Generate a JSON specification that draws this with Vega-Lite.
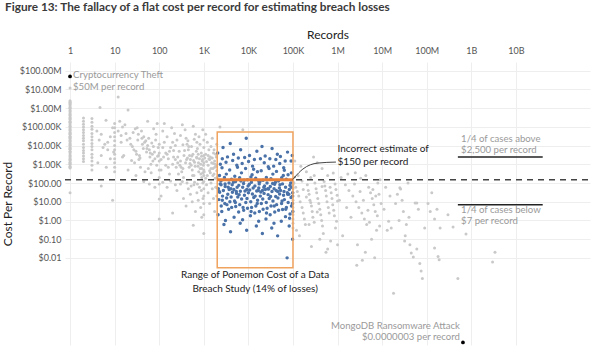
{
  "$schema": "https://vega.github.io/schema/vega-lite/v6.json",
  "width": 525,
  "height": 283,
  "autosize": "none",
  "padding": {"left": 65, "top": 62, "right": 10, "bottom": 7},
  "config": {
    "font": "Lato",
    "view": {"stroke": null},
    "axis": {"grid": true, "gridColor": "#eeeeee", "domain": false, "ticks": false, "labelColor": "#555555", "labelFontSize": 9, "titleColor": "#222222", "titleFontWeight": "normal", "titleFontSize": 12}
  },
  "title": {
    "text": "Figure 13: The fallacy of a flat cost per record for estimating breach losses",
    "anchor": "start",
    "frame": "group",
    "fontSize": 11.8,
    "fontWeight": "bold",
    "color": "#3a3a3a",
    "offset": 14,
    "dx": -60
  },
  "datasets": {
    "gray": [
      {"r":1,"c":12000000},{"r":1,"c":2500000},{"r":1,"c":2200000},{"r":1,"c":2000000},{"r":1,"c":1800000},{"r":1,"c":1600000},{"r":1,"c":1300000},{"r":1,"c":1100000},{"r":1,"c":1000000},{"r":1,"c":800000},{"r":1,"c":700000},{"r":1,"c":630000},{"r":1,"c":500000},{"r":1,"c":450000},{"r":1,"c":400000},{"r":1,"c":320000},{"r":1,"c":280000},{"r":1,"c":250000},{"r":1,"c":200000},{"r":1,"c":180000},{"r":1,"c":160000},{"r":1,"c":130000},{"r":1,"c":110000},{"r":1,"c":100000},{"r":1,"c":80000},{"r":1,"c":70000},{"r":1,"c":63000},{"r":1,"c":50000},{"r":1,"c":45000},{"r":1,"c":40000},{"r":1,"c":32000},{"r":1,"c":28000},{"r":1,"c":25000},{"r":1,"c":20000},{"r":1,"c":18000},{"r":1,"c":16000},{"r":1,"c":13000},{"r":1,"c":11000},{"r":1,"c":10000},{"r":1,"c":8000},{"r":1,"c":7000},{"r":1,"c":6300},{"r":1,"c":5000},{"r":1,"c":4500},{"r":1,"c":4000},{"r":1,"c":3200},{"r":1,"c":2800},{"r":1,"c":2500},{"r":1,"c":2000},{"r":1,"c":1800},{"r":1,"c":1600},{"r":1,"c":1300},{"r":1,"c":1100},{"r":1,"c":1000},{"r":1,"c":800},{"r":1,"c":700},{"r":1,"c":630},{"r":1,"c":30},
      {"r":2,"c":300000},{"r":2,"c":200000},{"r":2,"c":140000},{"r":2,"c":100000},{"r":2,"c":70000},{"r":2,"c":50000},{"r":2,"c":35000},{"r":2,"c":25000},{"r":2,"c":18000},{"r":2,"c":12000},{"r":2,"c":8000},{"r":2,"c":5500},{"r":2,"c":4000},{"r":2,"c":2800},{"r":2,"c":2000},{"r":2,"c":1400},
      {"r":3.1,"c":280000},{"r":3.1,"c":180000},{"r":3.1,"c":110000},{"r":3.1,"c":75000},{"r":3.1,"c":45000},{"r":3.1,"c":30000},{"r":3.1,"c":20000},{"r":3.1,"c":13000},{"r":3.1,"c":9000},{"r":3.1,"c":6000},{"r":3.1,"c":3500},{"r":3.1,"c":2300},{"r":3.1,"c":1500},{"r":3.1,"c":900},{"r":3.1,"c":500},
      {"r":4.7,"c":1100000},{"r":6.4,"c":230000},{"r":4,"c":60000},{"r":5,"c":40000},{"r":4.5,"c":20000},{"r":6,"c":12000},{"r":7,"c":6000},{"r":5,"c":3000},{"r":8,"c":2000},{"r":4.2,"c":1200},{"r":6.5,"c":700},{"r":9,"c":90000},{"r":8,"c":30000},{"r":9.5,"c":4500},{"r":5,"c":70},{"r":9,"c":12},{"r":7,"c":15000},{"r":5.5,"c":8000},
      {"r":10,"c":150000},{"r":10,"c":90000},{"r":10,"c":50000},{"r":10,"c":30000},{"r":10,"c":18000},{"r":10,"c":10000},{"r":10,"c":6000},{"r":10,"c":3500},{"r":10,"c":2000},{"r":10,"c":1200},{"r":10,"c":700},{"r":10,"c":400},
      {"r":12,"c":4000000},{"r":20,"c":800000},{"r":13,"c":200000},{"r":15,"c":100000},{"r":18,"c":45000},{"r":22,"c":25000},{"r":14,"c":15000},{"r":25,"c":9000},{"r":30,"c":5000},{"r":16,"c":3000},{"r":35,"c":1800},{"r":28,"c":1200},{"r":40,"c":60000},{"r":45,"c":30000},{"r":50,"c":18000},{"r":55,"c":10000},{"r":60,"c":6000},{"r":70,"c":3500},{"r":80,"c":2000},{"r":65,"c":1000},{"r":38,"c":700},{"r":48,"c":400},{"r":90,"c":150000},{"r":75,"c":80000},{"r":85,"c":40000},{"r":33,"c":20000},{"r":26,"c":50000},{"r":42,"c":12000},{"r":58,"c":25000},{"r":68,"c":14000},{"r":95,"c":8000},{"r":52,"c":4500},{"r":62,"c":2500},{"r":72,"c":1500},{"r":88,"c":900},{"r":20,"c":500},{"r":30,"c":250},{"r":45,"c":120},{"r":60,"c":90},{"r":80,"c":60},{"r":15,"c":2500},{"r":24,"c":1600},{"r":36,"c":3000},{"r":44,"c":7000},{"r":57,"c":600},{"r":66,"c":350},{"r":78,"c":4500},{"r":92,"c":2700},{"r":100,"c":14},{"r":100,"c":1.2},{"r":100,"c":90},{"r":100,"c":200},{"r":100,"c":500},{"r":100,"c":1500},{"r":100,"c":4000},{"r":100,"c":12000},{"r":17,"c":130000},{"r":55,"c":200000},{"r":32,"c":90000},
      {"r":12,"c":60000},{"r":14,"c":35000},{"r":19,"c":20000},{"r":23,"c":12000},{"r":27,"c":6000},{"r":31,"c":3500},{"r":37,"c":2200},{"r":41,"c":25000},{"r":47,"c":15000},{"r":53,"c":7000},{"r":63,"c":4000},{"r":74,"c":9000},{"r":83,"c":20000},{"r":96,"c":3000},{"r":29,"c":80000},{"r":34,"c":40000},
      {"r":120,"c":60000},{"r":150,"c":30000},{"r":130,"c":15000},{"r":180,"c":8000},{"r":140,"c":4000},{"r":160,"c":2000},{"r":200,"c":1000},{"r":110,"c":500},{"r":170,"c":300},{"r":220,"c":45000},{"r":250,"c":20000},{"r":230,"c":10000},{"r":280,"c":5000},{"r":260,"c":2500},{"r":300,"c":1500},{"r":240,"c":700},{"r":320,"c":400},{"r":350,"c":200},{"r":380,"c":70000},{"r":400,"c":25000},{"r":420,"c":12000},{"r":450,"c":6000},{"r":480,"c":3000},{"r":500,"c":1800},{"r":520,"c":900},{"r":550,"c":500},{"r":600,"c":250},{"r":650,"c":40000},{"r":700,"c":15000},{"r":720,"c":7000},{"r":750,"c":3500},{"r":800,"c":2000},{"r":850,"c":1000},{"r":900,"c":600},{"r":950,"c":350},{"r":950,"c":70000},{"r":1000,"c":20000},{"r":1000,"c":8000},{"r":1000,"c":3000},{"r":1000,"c":1200},{"r":1000,"c":500},{"r":1000,"c":250},{"r":130,"c":150000},{"r":190,"c":90000},{"r":330,"c":130000},{"r":580,"c":110000},{"r":125,"c":2500},{"r":210,"c":5500},{"r":290,"c":900},{"r":340,"c":11000},{"r":390,"c":1200},{"r":440,"c":18000},{"r":470,"c":700},{"r":530,"c":9000},{"r":570,"c":3500},{"r":620,"c":1300},{"r":680,"c":5000},{"r":740,"c":800},{"r":820,"c":12000},{"r":880,"c":4000},{"r":920,"c":1500},{"r":160,"c":700},{"r":270,"c":300},{"r":360,"c":3000},{"r":430,"c":2200},{"r":610,"c":22000},{"r":780,"c":30000},{"r":860,"c":300},
      {"r":110,"c":1800},{"r":140,"c":900},{"r":170,"c":5000},{"r":210,"c":2500},{"r":260,"c":1200},{"r":310,"c":700},{"r":370,"c":5500},{"r":410,"c":1800},{"r":460,"c":9000},{"r":490,"c":1100},{"r":540,"c":2800},{"r":590,"c":1600},{"r":640,"c":800},{"r":690,"c":2400},{"r":760,"c":1200},{"r":830,"c":600},{"r":890,"c":2700},{"r":940,"c":1800},{"r":980,"c":900},{"r":1050,"c":2200},{"r":1150,"c":1400},{"r":1250,"c":3000},{"r":1350,"c":1800},{"r":1450,"c":600},{"r":1550,"c":2200},{"r":1650,"c":1100},{"r":1750,"c":700},{"r":1850,"c":3500},{"r":1950,"c":450},{"r":1990,"c":200},{"r":1020,"c":400},{"r":770,"c":400},{"r":560,"c":250},{"r":340,"c":600},{"r":230,"c":1800},{"r":150,"c":3500},{"r":120,"c":8000},{"r":200,"c":15000},{"r":300,"c":35000},{"r":700,"c":2200},{"r":1600,"c":250},{"r":1800,"c":1000},{"r":1400,"c":350},{"r":1100,"c":180},{"r":900,"c":200},
      {"r":110,"c":20},{"r":150,"c":60},{"r":200,"c":2.5},{"r":250,"c":40},{"r":300,"c":90},{"r":350,"c":15},{"r":400,"c":6},{"r":450,"c":50},{"r":500,"c":25},{"r":550,"c":10},{"r":580,"c":0.55},{"r":600,"c":80},{"r":650,"c":3},{"r":700,"c":30},{"r":750,"c":12},{"r":800,"c":60},{"r":850,"c":5},{"r":900,"c":1.5},{"r":950,"c":100},{"r":1000,"c":0.2},{"r":1000,"c":2},{"r":1000,"c":8},{"r":1000,"c":20},{"r":1000,"c":50},{"r":1000,"c":120},{"r":120,"c":110},{"r":180,"c":130},{"r":230,"c":80},{"r":330,"c":120},{"r":420,"c":100},{"r":520,"c":70},{"r":620,"c":110},{"r":720,"c":90},{"r":880,"c":40},{"r":960,"c":15},
      {"r":1100,"c":40000},{"r":1200,"c":15000},{"r":1300,"c":6000},{"r":1400,"c":2500},{"r":1500,"c":1200},{"r":1600,"c":600},{"r":1700,"c":300},{"r":1800,"c":180},{"r":1100,"c":3500},{"r":1250,"c":900},{"r":1350,"c":450},{"r":1450,"c":9000},{"r":1550,"c":25000},{"r":1650,"c":4000},{"r":1750,"c":1500},{"r":1900,"c":800},{"r":1950,"c":12000},{"r":1150,"c":80},{"r":1250,"c":30},{"r":1350,"c":8},{"r":1450,"c":100},{"r":1550,"c":50},{"r":1650,"c":15},{"r":1750,"c":3},{"r":1850,"c":60},{"r":1950,"c":20},{"r":1300,"c":2000},{"r":1700,"c":6000},{"r":1900,"c":2500},{"r":1200,"c":250},
      {"r":2300,"c":100000},{"r":7500,"c":70000},
      {"r":100000,"c":120},{"r":100000,"c":80},{"r":100000,"c":50},{"r":100000,"c":30},{"r":100000,"c":20},{"r":100000,"c":12},{"r":100000,"c":8},{"r":100000,"c":5},{"r":100000,"c":3},{"r":100000,"c":2},{"r":100000,"c":1.2},{"r":100000,"c":0.7},{"r":100000,"c":0.4},
      {"r":110000,"c":1500},{"r":150000,"c":800},{"r":200000,"c":400},{"r":290000,"c":2500},{"r":350000,"c":1200},{"r":450000,"c":600},{"r":800000,"c":340},{"r":600000,"c":250},{"r":130000,"c":250},{"r":250000,"c":200},
      {"r":105000,"c":100},{"r":115000,"c":60},{"r":125000,"c":35},{"r":135000,"c":20},{"r":145000,"c":10},{"r":160000,"c":5},{"r":170000,"c":2.5},{"r":180000,"c":1.2},{"r":190000,"c":0.6},{"r":120000,"c":0.3},{"r":140000,"c":0.15},{"r":210000,"c":80},{"r":220000,"c":40},{"r":230000,"c":25},{"r":240000,"c":12},{"r":260000,"c":6},{"r":270000,"c":3},{"r":280000,"c":1.5},{"r":300000,"c":0.8},{"r":310000,"c":100},{"r":330000,"c":50},{"r":340000,"c":30},{"r":360000,"c":15},{"r":380000,"c":8},{"r":400000,"c":4},{"r":420000,"c":2},{"r":440000,"c":1},{"r":460000,"c":0.5},{"r":480000,"c":0.2},{"r":500000,"c":120},{"r":520000,"c":70},{"r":540000,"c":40},{"r":560000,"c":20},{"r":580000,"c":10},{"r":620000,"c":5},{"r":650000,"c":2.5},{"r":680000,"c":60},{"r":720000,"c":30},{"r":750000,"c":15},{"r":780000,"c":7},{"r":820000,"c":3.5},{"r":850000,"c":1.8},{"r":880000,"c":90},{"r":920000,"c":45},{"r":950000,"c":0.9},{"r":980000,"c":22},{"r":1000000,"c":11},{"r":1000000,"c":0.05},{"r":160000,"c":130},{"r":200000,"c":18},{"r":260000,"c":0.04},{"r":300000,"c":250},{"r":400000,"c":0.1},{"r":600000,"c":0.03},{"r":700000,"c":0.08},{"r":900000,"c":0.4},{"r":450000,"c":65},{"r":350000,"c":2.8},{"r":250000,"c":9},{"r":230000,"c":0.6},{"r":170000,"c":45},{"r":550000,"c":0.02},
      {"r":1200000,"c":200},{"r":1500000,"c":80},{"r":1800000,"c":40},{"r":2200000,"c":20},{"r":2600000,"c":10},{"r":3000000,"c":5},{"r":3500000,"c":2.5},{"r":4000000,"c":1.2},{"r":4500000,"c":0.6},{"r":5000000,"c":60},{"r":5500000,"c":30},{"r":6000000,"c":15},{"r":6500000,"c":7},{"r":7000000,"c":3},{"r":7500000,"c":0.3},{"r":8000000,"c":100},{"r":8500000,"c":25},{"r":9000000,"c":150},{"r":9500000,"c":8},{"r":1300000,"c":0.15},{"r":1600000,"c":5},{"r":2000000,"c":1.5},{"r":2400000,"c":90},{"r":2800000,"c":0.05},{"r":3200000,"c":35},{"r":3800000,"c":12},{"r":4200000,"c":0.02},{"r":4800000,"c":3.5},{"r":5200000,"c":0.8},{"r":5800000,"c":0.1},{"r":6200000,"c":45},{"r":6800000,"c":0.01},{"r":7200000,"c":20},{"r":7800000,"c":1.8},{"r":8800000,"c":0.5},{"r":1100000,"c":12},{"r":1700000,"c":300},{"r":2500000,"c":350},{"r":3300000,"c":180},{"r":4300000,"c":250},{"r":2700000,"c":0.004},{"r":3600000,"c":0.0075},
      {"r":12000000,"c":60},{"r":15000000,"c":20},{"r":18000000,"c":0.00013},{"r":20000000,"c":8},{"r":25000000,"c":56},{"r":26000000,"c":48},{"r":30000000,"c":3},{"r":33000000,"c":0.15},{"r":35000000,"c":0.6},{"r":40000000,"c":1.5},{"r":45000000,"c":0.018},{"r":50000000,"c":0.011},{"r":55000000,"c":8.5},{"r":60000000,"c":8.5},{"r":65000000,"c":4},{"r":70000000,"c":0.005},{"r":75000000,"c":0.002},{"r":80000000,"c":0.0008},{"r":90000000,"c":0.4},{"r":14000000,"c":0.9},{"r":16000000,"c":0.39},{"r":22000000,"c":25},{"r":28000000,"c":12},{"r":38000000,"c":100},{"r":42000000,"c":0.05},{"r":11000000,"c":4},{"r":13000000,"c":0.3},{"r":24000000,"c":1},{"r":32000000,"c":0.08},{"r":60000000,"c":0.03},
      {"r":107000000,"c":8},{"r":120000000,"c":3},{"r":150000000,"c":0.034},{"r":170000000,"c":4},{"r":180000000,"c":0.012},{"r":190000000,"c":0.008},{"r":200000000,"c":0.39},{"r":390000000,"c":0.45},{"r":760000000,"c":0.19},{"r":3000000000,"c":0.006},{"r":3400000000,"c":0.02},{"r":500000000,"c":0.0008},{"r":130000000,"c":30},{"r":150000000,"c":1.2},{"r":300000000,"c":2}
    ],
    "blue": [
      {"r":2050,"c":4000},{"r":2250,"c":250},{"r":2120,"c":50},{"r":2180,"c":13},{"r":2090,"c":2},
      {"r":2350,"c":1000},{"r":2420,"c":130},{"r":2270,"c":32},{"r":2460,"c":6},{"r":2330,"c":90},
      {"r":2560,"c":650},{"r":2440,"c":80},{"r":2630,"c":20},{"r":2530,"c":3},{"r":2600,"c":2000},
      {"r":2700,"c":8000},{"r":2900,"c":200},{"r":2750,"c":40},{"r":2960,"c":8},{"r":2830,"c":0.6},
      {"r":3200,"c":300},{"r":3020,"c":65},{"r":3250,"c":16},{"r":3060,"c":1},{"r":3150,"c":1300},
      {"r":3400,"c":2500},{"r":3680,"c":100},{"r":3450,"c":25},{"r":3600,"c":4},{"r":3530,"c":60},
      {"r":3800,"c":500},{"r":4050,"c":50},{"r":3850,"c":10},{"r":3980,"c":0.25},{"r":3920,"c":13000},
      {"r":4450,"c":1600},{"r":4180,"c":160},{"r":4380,"c":32},{"r":4220,"c":5},{"r":4330,"c":80},
      {"r":4650,"c":3500},{"r":4950,"c":230},{"r":4720,"c":45},{"r":4900,"c":11},{"r":4780,"c":1.5},
      {"r":5500,"c":900},{"r":5150,"c":120},{"r":5420,"c":28},{"r":5200,"c":5.5},{"r":5350,"c":35},
      {"r":5700,"c":700},{"r":6100,"c":75},{"r":5780,"c":18},{"r":6050,"c":2.8},{"r":5950,"c":2200},
      {"r":6700,"c":6000},{"r":6350,"c":190},{"r":6600,"c":36},{"r":6400,"c":7},{"r":6550,"c":0.7},
      {"r":7000,"c":350},{"r":7450,"c":60},{"r":7050,"c":14},{"r":7400,"c":1.1},{"r":7250,"c":1100},
      {"r":8250,"c":2300},{"r":7800,"c":95},{"r":8150,"c":22},{"r":7850,"c":3.5},{"r":8050,"c":140},
      {"r":8650,"c":600},{"r":9200,"c":45},{"r":8750,"c":9},{"r":9150,"c":0.3},{"r":8950,"c":25000},
      {"r":10100,"c":1400},{"r":9500,"c":150},{"r":10000,"c":30},{"r":9550,"c":4.5},{"r":9850,"c":70},
      {"r":10600,"c":3000},{"r":11400,"c":210},{"r":10700,"c":42},{"r":11300,"c":10},{"r":11100,"c":1.8},
      {"r":12400,"c":800},{"r":11700,"c":110},{"r":12300,"c":26},{"r":11800,"c":5},{"r":12100,"c":280},
      {"r":13100,"c":550},{"r":14000,"c":70},{"r":13200,"c":17},{"r":13900,"c":2.5},{"r":13650,"c":1800},
      {"r":15500,"c":5000},{"r":14600,"c":180},{"r":15400,"c":38},{"r":14700,"c":6},{"r":15100,"c":0.5},
      {"r":16000,"c":400},{"r":17100,"c":55},{"r":16100,"c":12},{"r":17000,"c":0.9},{"r":16700,"c":40},
      {"r":18600,"c":2000},{"r":17500,"c":90},{"r":18500,"c":20},{"r":17600,"c":3},{"r":18200,"c":120},
      {"r":19400,"c":450},{"r":20700,"c":40},{"r":19500,"c":8},{"r":20600,"c":0.2},{"r":20200,"c":9000},
      {"r":22700,"c":1200},{"r":21300,"c":140},{"r":22500,"c":28},{"r":21400,"c":4},{"r":22200,"c":60},
      {"r":23800,"c":2800},{"r":25300,"c":200},{"r":24000,"c":45},{"r":25200,"c":9},{"r":24800,"c":1.2},
      {"r":27900,"c":750},{"r":26200,"c":100},{"r":27700,"c":24},{"r":26300,"c":4.5},{"r":27300,"c":50},
      {"r":29100,"c":600},{"r":31000,"c":65},{"r":29300,"c":15},{"r":30800,"c":2},{"r":30300,"c":2000},
      {"r":34000,"c":7000},{"r":32000,"c":170},{"r":33800,"c":35},{"r":32200,"c":6},{"r":33400,"c":0.4},
      {"r":35400,"c":300},{"r":37700,"c":50},{"r":35600,"c":11},{"r":37500,"c":0.7},{"r":36900,"c":800},
      {"r":41300,"c":1800},{"r":38800,"c":85},{"r":41000,"c":19},{"r":39000,"c":2.8},{"r":40500,"c":110},
      {"r":42700,"c":420},{"r":45500,"c":35},{"r":43000,"c":7},{"r":45300,"c":0.15},{"r":44600,"c":3500},
      {"r":50500,"c":1100},{"r":47500,"c":130},{"r":50200,"c":26},{"r":47700,"c":3.5},{"r":49600,"c":55},
      {"r":52300,"c":2600},{"r":55800,"c":190},{"r":52600,"c":40},{"r":55500,"c":8},{"r":54700,"c":0.9},
      {"r":62000,"c":650},{"r":58200,"c":90},{"r":61500,"c":22},{"r":58500,"c":3.8},{"r":60700,"c":250},
      {"r":64000,"c":480},{"r":68200,"c":60},{"r":64300,"c":13},{"r":67900,"c":1.6},{"r":66900,"c":1500},
      {"r":75500,"c":4500},{"r":70800,"c":160},{"r":75000,"c":30},{"r":71200,"c":5},{"r":73900,"c":0.01},
      {"r":77600,"c":280},{"r":82700,"c":45},{"r":78000,"c":9},{"r":82300,"c":0.5},{"r":81000,"c":25},
      {"r":90900,"c":1500},{"r":85400,"c":75},{"r":90400,"c":17},{"r":85800,"c":2.2},{"r":89100,"c":100},
      {"r":92200,"c":350},{"r":98300,"c":30},{"r":92600,"c":6},{"r":98000,"c":0.1},{"r":96200,"c":3000},
      {"r":2200,"c":35},{"r":2600,"c":12},{"r":3000,"c":90},{"r":3300,"c":7},{"r":3700,"c":45},{"r":4100,"c":18},{"r":4600,"c":110},{"r":5100,"c":9},{"r":5600,"c":60},{"r":6200,"c":24},{"r":6800,"c":130},{"r":7600,"c":5},{"r":8400,"c":38},{"r":9300,"c":15},{"r":10500,"c":85},{"r":11500,"c":3},{"r":12800,"c":55},{"r":14200,"c":20},{"r":15800,"c":8},{"r":17200,"c":120},{"r":19000,"c":33},{"r":21000,"c":14},{"r":23000,"c":70},{"r":25500,"c":2.5},{"r":28500,"c":48},{"r":31500,"c":19},{"r":35000,"c":95},{"r":38000,"c":6},{"r":42000,"c":40},{"r":46000,"c":16},{"r":51000,"c":80},{"r":57000,"c":11},{"r":63000,"c":35},{"r":69000,"c":4},{"r":76000,"c":25},{"r":84000,"c":1.3},{"r":91000,"c":60},{"r":98000,"c":20},{"r":97000,"c":8},{"r":99000,"c":3}
    ]
  },
  "encoding": {
    "x": {
      "field": "r", "type": "quantitative",
      "scale": {"type": "log", "domain": [0.77, 460000000000], "nice": false},
      "axis": {
        "orient": "top", "title": "Records",
        "values": [1, 10, 100, 1000, 10000, 100000, 1000000, 10000000, 100000000, 1000000000, 10000000000],
        "labelExpr": "datum.value >= 1e9 ? round(datum.value/1e9) + 'B' : datum.value >= 1e6 ? round(datum.value/1e6) + 'M' : datum.value >= 1e3 ? round(datum.value/1e3) + 'K' : round(datum.value) + ''",
        "labelPadding": 7, "titlePadding": 5
      }
    },
    "y": {
      "field": "c", "type": "quantitative",
      "scale": {"type": "log", "domain": [0.00000022, 295000000], "nice": false},
      "axis": {
        "title": "Cost Per Record",
        "values": [0.01, 0.1, 1, 10, 100, 1000, 10000, 100000, 1000000, 10000000, 100000000],
        "labelExpr": "datum.value >= 1e6 ? '$' + format(datum.value/1e6, '.2f') + 'M' : datum.value >= 1e3 ? '$' + format(datum.value/1e3, '.2f') + 'K' : '$' + format(datum.value, '.2f')",
        "labelPadding": 4, "titlePadding": 5
      }
    }
  },
  "layer": [
    {
      "data": {"name": "gray"},
      "mark": {"type": "circle", "size": 9, "color": "#c9c9c9", "opacity": 1}
    },
    {
      "data": {"values": [{"r": 0.77, "r2": 460000000000, "c": 150}]},
      "mark": {"type": "rule", "color": "#444444", "strokeWidth": 1.5, "strokeDash": [6, 5]},
      "encoding": {"x2": {"field": "r2"}}
    },
    {
      "data": {"name": "blue"},
      "mark": {"type": "circle", "size": 12, "color": "#4a72a8", "opacity": 1}
    },
    {
      "data": {"values": [{"r": 2000, "r2": 100000, "c": 54000, "c2": 0.003}]},
      "mark": {"type": "rect", "fill": null, "fillOpacity": 0, "stroke": "#f0a35e", "strokeWidth": 1.5},
      "encoding": {"x2": {"field": "r2"}, "y2": {"field": "c2"}}
    },
    {
      "data": {"values": [{"r": 2000, "r2": 100000, "c": 150}]},
      "mark": {"type": "rule", "color": "#e8823a", "strokeWidth": 3},
      "encoding": {"x2": {"field": "r2"}}
    },
    {
      "data": {"values": [{"r": 500000000, "r2": 40000000000, "c": 2500}, {"r": 500000000, "r2": 40000000000, "c": 7}]},
      "mark": {"type": "rule", "color": "#222222", "strokeWidth": 1.5},
      "encoding": {"x2": {"field": "r2"}}
    },
    {
      "data": {"values": [{"r": 110000, "c": 210}, {"r": 167000, "c": 560}, {"r": 360000, "c": 1170}, {"r": 920000, "c": 1320}]},
      "mark": {"type": "line", "color": "#444444", "strokeWidth": 1, "interpolate": "monotone"}
    },
    {
      "data": {"values": [{"r": 107000, "c": 190}]},
      "mark": {"type": "point", "shape": "wedge", "filled": true, "color": "#444444", "size": 40, "angle": 225, "opacity": 1}
    },
    {
      "data": {"values": [{"r": 1, "c": 50000000}, {"r": 650000000, "c": 0.0000003}]},
      "mark": {"type": "circle", "size": 14, "color": "#000000", "opacity": 1}
    },
    {
      "data": {"values": [{"r": 1, "c": 50000000, "t": "Cryptocurrency Theft\n$50M per record"}]},
      "mark": {"type": "text", "lineBreak": "\n", "align": "left", "baseline": "top", "dx": 3, "dy": -6, "fontSize": 9.6, "lineHeight": 12, "color": "#9a9a9a"},
      "encoding": {"text": {"field": "t"}}
    },
    {
      "data": {"values": [{"r": 650000000, "c": 0.0000003, "t": "MongoDB Ransomware Attack\n$0.0000003 per record"}]},
      "mark": {"type": "text", "lineBreak": "\n", "align": "right", "baseline": "top", "dx": -3, "dy": -21, "fontSize": 9.6, "lineHeight": 11, "color": "#9a9a9a"},
      "encoding": {"text": {"field": "t"}}
    },
    {
      "data": {"values": [{"r": 1000000, "c": 12300, "t": "Incorrect estimate of\n$150 per record"}]},
      "mark": {"type": "text", "lineBreak": "\n", "align": "left", "baseline": "top", "fontSize": 10, "lineHeight": 13, "color": "#222222"},
      "encoding": {"text": {"field": "t"}}
    },
    {
      "data": {"values": [{"r": 14142, "c": 0.0023, "t": "Range of Ponemon Cost of a Data\nBreach Study (14% of losses)"}]},
      "mark": {"type": "text", "lineBreak": "\n", "align": "center", "baseline": "top", "fontSize": 10, "lineHeight": 14, "color": "#222222"},
      "encoding": {"text": {"field": "t"}}
    },
    {
      "data": {"values": [{"r": 590000000, "c": 40000, "t": "1/4 of cases above\n$2,500 per record"}, {"r": 590000000, "c": 6.4, "t": "1/4 of cases below\n$7 per record"}]},
      "mark": {"type": "text", "lineBreak": "\n", "align": "left", "baseline": "top", "fontSize": 9.6, "lineHeight": 11, "color": "#9a9a9a"},
      "encoding": {"text": {"field": "t"}}
    }
  ]
}
